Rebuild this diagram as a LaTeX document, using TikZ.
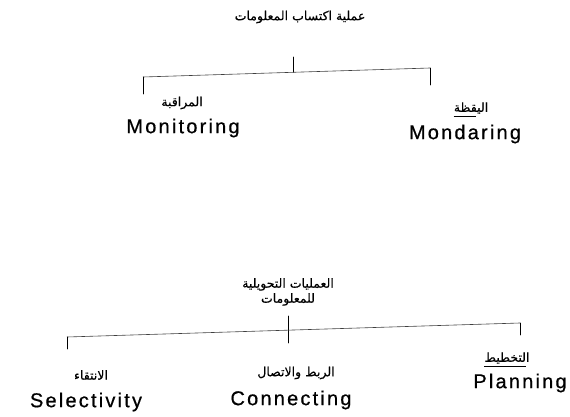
\documentclass[tikz,border=0pt]{standalone}
\usepackage{fontspec}
\setmainfont{Liberation Sans}
\newfontfamily\arabicfont[Script=Arabic,FakeBold=0.4]{DejaVu Sans}
\newfontfamily\enfont[LetterSpace=11,FakeBold=0.6]{Liberation Sans}
\TeXXeTstate=1
\begin{document}
\begin{tikzpicture}[x=1pt,y=-1pt,
  ar/.style={font=\arabicfont\fontsize{12.5}{15}\selectfont, inner sep=0pt},
  en/.style={font=\enfont\fontsize{20}{23}\selectfont, inner sep=0pt},
  vl/.style={line width=0.8pt, line cap=round},
  hl/.style={line width=0.6pt, black!75}]
\useasboundingbox (0,0) rectangle (570,417);
\fill[white] (0,0) rectangle (570,417);
% top tree
\node[ar] (top) at (300,17) {\beginR عملية اكتساب المعلومات\endR};
\node[ar] (mon-ar) at (182,103) {\beginR المراقبة\endR};
\node[en] (mon) at (183,128) {Monitoring};
\node[ar] (yq-ar) at (471,108) {\beginR اليقظة\endR};
\node[en] (mnd) at (465,134) {Mondaring};
\coordinate (s1a) at (293,57);
\coordinate (s1b) at (293,72.3);
\coordinate (h1L) at (143,77);
\coordinate (h1R) at (430,68);
\coordinate (d1L) at (143,94);
\coordinate (d1R) at (430,85);
\draw[vl] (s1a) -- (s1b);
\draw[hl] (h1L) -- (h1R);
\draw[vl] (d1L) -- (h1L);
\draw[vl] (h1R) -- (d1R);
\draw[line width=0.5pt] ([yshift=-2pt]yq-ar.south west) -- ([yshift=-2pt,xshift=-12pt]yq-ar.south east);
% bottom tree
\node[ar, align=center] (bot) at (288,292) {\beginR العمليات التحويلية\endR\\\beginR للمعلومات\endR};
\node[ar] (sel-ar) at (91,375) {\beginR الانتقاء\endR};
\node[en] (sel) at (86,402) {Selectivity};
\node[ar] (con-ar) at (296,373) {\beginR الربط والاتصال\endR};
\node[en] (con) at (291,400) {Connecting};
\node[ar] (pl-ar) at (507,358) {\beginR التخطيط\endR};
\node[en] (pl) at (520,383) {Planning};
\coordinate (s2a) at (288,316);
\coordinate (s2b) at (288,343);
\coordinate (h2L) at (67,337);
\coordinate (h2R) at (520,323);
\coordinate (d2L) at (67,349);
\coordinate (d2R) at (520,335);
\draw[vl] (s2a) -- (s2b);
\draw[hl] (h2L) -- (h2R);
\draw[vl] (d2L) -- (h2L);
\draw[vl] (h2R) -- (d2R);
\draw[line width=0.5pt] ([yshift=-2pt]pl-ar.south west) -- ([yshift=-2pt,xshift=-4pt]pl-ar.south east);
\end{tikzpicture}
\end{document}
